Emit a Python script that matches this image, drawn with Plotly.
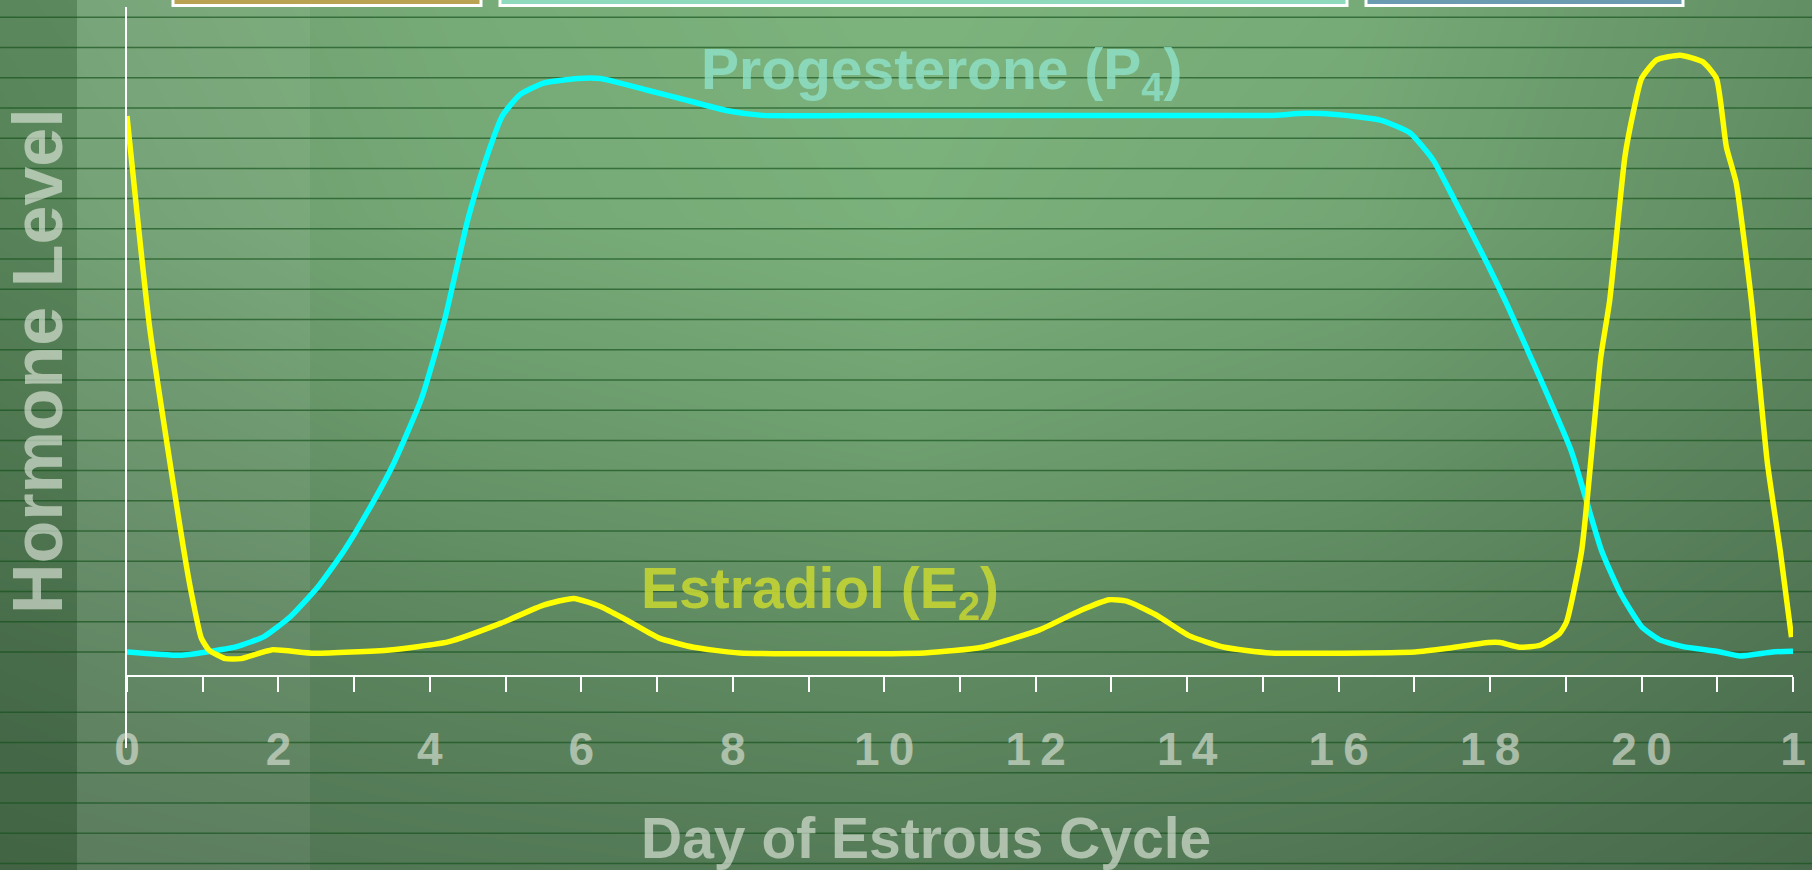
import plotly.graph_objects as go

# Hormone curves: day of the estrous cycle vs relative hormone level (0-100)
p4_day = [0, 0.7, 1.05, 1.45, 1.81, 2.16, 2.52, 2.87, 3.2, 3.51, 3.89, 4.2, 4.5, 4.73, 4.96,
          5.19, 5.49, 5.95, 6.25, 6.86, 7.48, 7.93, 8.39, 10, 12, 14, 15.1, 15.56, 16.0, 16.55,
          16.94, 17.25, 17.51, 17.96, 18.2, 18.61, 19.07, 19.47, 19.72, 20.0, 20.24, 20.55,
          20.99, 21.3, 21.73, 22.0]
p4_level = [3.6, 3.1, 3.6, 4.4, 5.9, 8.9, 13.3, 18.8, 25.0, 31.5, 41.5, 53.5, 68.2, 76.9, 83.8,
            86.9, 88.6, 89.3, 89.3, 87.6, 85.8, 84.5, 83.8, 83.8, 83.8, 83.8, 83.8, 84.1, 83.9, 83.1,
            81.2, 77.1, 71.6, 61.7, 56.1, 45.8, 33.7, 18.8, 12.4, 7.4, 5.4, 4.4,
            3.7, 3.0, 3.6, 3.7]

e2_day = [0, 0.3, 0.75, 0.85, 0.98, 1.08, 1.3, 1.51, 1.91, 2.47, 3.47, 4.24, 4.94, 5.5, 5.9,
          6.25, 6.56, 7.02, 7.48, 8.09, 10.53, 11.29, 12.05, 12.59, 12.97, 13.2, 13.58, 14.03,
          14.49, 15.1, 17.01, 17.47, 17.98, 18.13, 18.39, 18.66, 18.92, 19.01, 19.21, 19.46,
          19.58, 19.78, 19.89, 20.0, 20.2, 20.51, 20.81, 20.99, 21.12, 21.25, 21.45, 21.66,
          21.83, 21.98]
e2_level = [83.7, 52.0, 18.8, 12.4, 5.7, 3.9, 2.6, 2.6, 3.9, 3.4, 3.9, 5.1, 7.9, 10.6, 11.6,
            10.4, 8.6, 5.7, 4.3, 3.45, 3.45, 4.3, 6.9, 9.8, 11.4, 11.2, 9.2, 6.0,
            4.3, 3.45, 3.6, 4.2, 5.0, 5.0, 4.3, 4.6, 6.4, 8.1, 18.8, 47.5,
            56.2, 77.6, 84.2, 89.3, 92.1, 92.8, 91.8, 89.3, 79.1, 73.7, 56.2, 32.0,
            18.8, 5.8]

label_days = [0, 2, 4, 6, 8, 10, 12, 14, 16, 18, 20, 22]
label_text = ['0', '2', '4', '6', '8', '1\u20090', '1\u20092', '1\u20094', '1\u20096',
              '1\u20098', '2\u20090', '1']
odd_days = [1, 3, 5, 7, 9, 11, 13, 15, 17, 19, 21]

# slide background shading (0 = dark, 1 = light)
shade_x = [0, 453, 906, 1359, 1812]
shade_y = [0, 217, 435, 652, 870]
shade = [[0.70, 0.85, 0.95, 0.85, 0.55],
         [0.65, 0.82, 0.92, 0.80, 0.50],
         [0.50, 0.65, 0.74, 0.62, 0.38],
         [0.35, 0.45, 0.52, 0.42, 0.25],
         [0.25, 0.30, 0.34, 0.27, 0.15]]

W, H = 1812, 870
FONT = 'Liberation Sans, Arial, sans-serif'

fig = go.Figure()

# background
fig.add_trace(go.Heatmap(x=shade_x, y=shade_y, z=shade, zsmooth='best', zmin=0, zmax=1,
                         colorscale=[[0, 'rgb(62,92,66)'], [1, 'rgb(128,184,128)']],
                         showscale=False, hoverinfo='skip'))
fig.add_trace(go.Scatter(x=[0, 77, 77, 0, 0], y=[0, 0, H, H, 0], fill='toself', mode='lines',
                         fillcolor='rgba(0,25,0,0.16)', line_width=0, hoverinfo='skip'))
fig.add_trace(go.Scatter(x=[77, 310, 310, 77, 77], y=[0, 0, H, H, 0], fill='toself', mode='lines',
                         fillcolor='rgba(255,255,255,0.07)', line_width=0, hoverinfo='skip'))

# ruled lines across the slide
lx, ly = [], []
for k in range(29):
    if k == 22:
        continue
    yy = 17.3 + 30.22 * k
    lx += [0, W, None]
    ly += [yy, yy, None]
fig.add_trace(go.Scatter(x=lx, y=ly, mode='lines', hoverinfo='skip',
                         line=dict(color='rgba(20,80,28,0.65)', width=1.5)))

# hormone curves
fig.add_trace(go.Scatter(x=p4_day, y=p4_level, xaxis='x2', yaxis='y2', mode='lines',
                         line=dict(color='#00ffff', width=5.5, shape='spline', smoothing=0.5)))
fig.add_trace(go.Scatter(x=e2_day, y=e2_level, xaxis='x2', yaxis='y2', mode='lines',
                         line=dict(color='#ffff00', width=5.5, shape='spline', smoothing=0.5)))

# tabs at the top edge
for x0, x1, c in [(173, 481, '#b9a252'), (500, 1347, '#8fd9bd'), (1366, 1683, '#6a9bb1')]:
    fig.add_shape(type='rect', xref='x', yref='y', x0=x0, x1=x1, y0=-20, y1=5.5,
                  fillcolor=c, line=dict(color='white', width=3), layer='above')

fig.add_annotation(x=941, y=73, xref='x', yref='y', showarrow=False,
                   text='Progesterone (P<sub>4</sub>)',
                   font=dict(family=FONT, size=57, weight='bold', color='rgba(141,225,199,0.82)'))
fig.add_annotation(x=820, y=592, xref='x', yref='y', showarrow=False,
                   text='Estradiol (E<sub>2</sub>)',
                   font=dict(family=FONT, size=57, weight='bold', color='rgba(201,216,49,0.85)'))
fig.add_annotation(x=926, y=838, xref='x', yref='y', showarrow=False,
                   text='Day of Estrous Cycle',
                   font=dict(family=FONT, size=57, weight='bold', color='rgba(235,240,230,0.6)'))
fig.add_annotation(x=38, y=361, xref='x', yref='y', showarrow=False, textangle=-90,
                   text='Hormone Level',
                   font=dict(family=FONT, size=70, weight='bold', color='rgba(235,240,230,0.6)'))

fig.update_layout(
    width=W, height=H, margin=dict(l=0, r=0, t=0, b=0, autoexpand=False),
    paper_bgcolor='rgb(95,140,95)', plot_bgcolor='rgba(0,0,0,0)', showlegend=False,
    xaxis=dict(domain=[0, 1], range=[0, W], visible=False),
    yaxis=dict(domain=[0, 1], range=[H, 0], visible=False),
    xaxis2=dict(domain=[127 / W, 1793 / W], range=[0, 22], anchor='free', position=(H - 676) / H,
                showline=True, linecolor='white', linewidth=2, showgrid=False, zeroline=False,
                tickmode='array', tickvals=label_days, ticktext=label_text,
                ticks='outside', ticklen=15, tickwidth=2, tickcolor='white',
                minor=dict(tickmode='array', tickvals=odd_days, ticks='outside', ticklen=15,
                           tickwidth=2, tickcolor='white', showgrid=False),
                ticklabelstandoff=18,
                tickfont=dict(family=FONT, size=46, weight='bold', color='rgba(230,235,225,0.6)')),
    yaxis2=dict(domain=[(H - 748) / H, (H - 7) / H], range=[-10.76, 100], anchor='x2',
                showline=True, linecolor='white', linewidth=2, showgrid=False, zeroline=False,
                showticklabels=False, ticks=''),
)

# the page's default body margin would push the slide 8px off the corner
fig.write_html("out.html", config={'displayModeBar': False},
               post_script="document.body.style.margin = '0px';")
